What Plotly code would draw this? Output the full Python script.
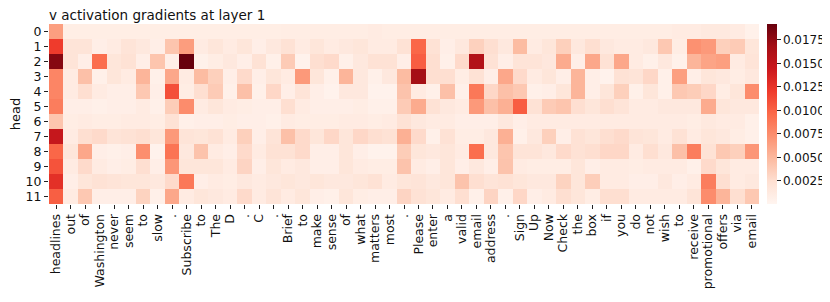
import plotly.graph_objects as go

tokens = ["headlines", "out", "of", "Washington", "never", "seem", "to", "slow", ".",
          "Subscribe", "to", "The", "D", ".", "C", ".", "Brief", "to", "make", "sense",
          "of", "what", "matters", "most", ".", "Please", "enter", "a", "valid", "email",
          "address", ".", "Sign", "Up", "Now", "Check", "the", "box", "if", "you", "do",
          "not", "wish", "to", "receive", "promotional", "offers", "via", "email"]

heads = list(range(12))

head0 = [0.0065, 0.0009, 0.0009, 0.0009, 0.0009, 0.0009, 0.0009, 0.0009, 0.0009, 0.0009,
         0.0009, 0.0009, 0.0009, 0.0009, 0.0009, 0.0009, 0.0010, 0.0010, 0.0010, 0.0010,
         0.0010, 0.0010, 0.0012, 0.0010, 0.0010, 0.0010, 0.0010, 0.0010, 0.0010, 0.0010,
         0.0010, 0.0010, 0.0010, 0.0010, 0.0010, 0.0010, 0.0010, 0.0010, 0.0010, 0.0010,
         0.0010, 0.0010, 0.0010, 0.0012, 0.0012, 0.0014, 0.0014, 0.0012, 0.0005]
head1 = [0.0120, 0.0020, 0.0020, 0.0008, 0.0012, 0.0020, 0.0015, 0.0008, 0.0042, 0.0066,
         0.0012, 0.0018, 0.0012, 0.0018, 0.0008, 0.0015, 0.0022, 0.0012, 0.0018, 0.0012,
         0.0015, 0.0018, 0.0012, 0.0012, 0.0022, 0.0098, 0.0022, 0.0008, 0.0015, 0.0034,
         0.0025, 0.0015, 0.0048, 0.0012, 0.0018, 0.0035, 0.0015, 0.0025, 0.0015, 0.0012,
         0.0012, 0.0015, 0.0040, 0.0010, 0.0073, 0.0068, 0.0035, 0.0038, 0.0018]
head2 = [0.0180, 0.0020, 0.0008, 0.0094, 0.0018, 0.0022, 0.0008, 0.0042, 0.0008, 0.0192,
         0.0005, 0.0010, 0.0015, 0.0008, 0.0022, 0.0006, 0.0038, 0.0004, 0.0025, 0.0028,
         0.0006, 0.0015, 0.0022, 0.0022, 0.0008, 0.0103, 0.0025, 0.0006, 0.0028, 0.0160,
         0.0022, 0.0008, 0.0020, 0.0020, 0.0016, 0.0058, 0.0008, 0.0060, 0.0022, 0.0060,
         0.0012, 0.0006, 0.0015, 0.0005, 0.0052, 0.0062, 0.0065, 0.0012, 0.0020]
head3 = [0.0080, 0.0012, 0.0045, 0.0006, 0.0018, 0.0012, 0.0052, 0.0006, 0.0060, 0.0012,
         0.0048, 0.0035, 0.0008, 0.0028, 0.0008, 0.0018, 0.0012, 0.0068, 0.0018, 0.0006,
         0.0052, 0.0015, 0.0006, 0.0015, 0.0048, 0.0168, 0.0025, 0.0025, 0.0010, 0.0022,
         0.0008, 0.0060, 0.0028, 0.0012, 0.0018, 0.0008, 0.0052, 0.0008, 0.0004, 0.0022,
         0.0020, 0.0030, 0.0006, 0.0065, 0.0008, 0.0018, 0.0015, 0.0010, 0.0015]
head4 = [0.0080, 0.0012, 0.0025, 0.0012, 0.0008, 0.0008, 0.0040, 0.0008, 0.0110, 0.0010,
         0.0025, 0.0038, 0.0006, 0.0045, 0.0006, 0.0030, 0.0008, 0.0020, 0.0008, 0.0004,
         0.0015, 0.0015, 0.0004, 0.0004, 0.0043, 0.0012, 0.0006, 0.0045, 0.0006, 0.0088,
         0.0030, 0.0045, 0.0040, 0.0006, 0.0008, 0.0018, 0.0052, 0.0008, 0.0018, 0.0035,
         0.0006, 0.0018, 0.0006, 0.0040, 0.0037, 0.0030, 0.0010, 0.0018, 0.0076]
head5 = [0.0085, 0.0008, 0.0008, 0.0006, 0.0008, 0.0008, 0.0012, 0.0006, 0.0037, 0.0076,
         0.0012, 0.0018, 0.0012, 0.0010, 0.0008, 0.0008, 0.0025, 0.0012, 0.0008, 0.0008,
         0.0008, 0.0010, 0.0006, 0.0006, 0.0038, 0.0058, 0.0022, 0.0015, 0.0012, 0.0068,
         0.0045, 0.0055, 0.0103, 0.0022, 0.0038, 0.0042, 0.0025, 0.0018, 0.0025, 0.0020,
         0.0012, 0.0012, 0.0015, 0.0015, 0.0015, 0.0058, 0.0018, 0.0015, 0.0015]
head6 = [0.0042, 0.0010, 0.0012, 0.0010, 0.0010, 0.0012, 0.0012, 0.0010, 0.0022, 0.0006,
         0.0008, 0.0008, 0.0010, 0.0008, 0.0008, 0.0006, 0.0012, 0.0010, 0.0010, 0.0010,
         0.0012, 0.0012, 0.0010, 0.0012, 0.0022, 0.0015, 0.0012, 0.0012, 0.0008, 0.0008,
         0.0008, 0.0015, 0.0008, 0.0012, 0.0012, 0.0012, 0.0012, 0.0012, 0.0012, 0.0012,
         0.0012, 0.0012, 0.0012, 0.0012, 0.0010, 0.0014, 0.0012, 0.0012, 0.0006]
head7 = [0.0148, 0.0012, 0.0025, 0.0028, 0.0020, 0.0022, 0.0025, 0.0018, 0.0068, 0.0020,
         0.0018, 0.0022, 0.0012, 0.0035, 0.0008, 0.0020, 0.0045, 0.0028, 0.0018, 0.0030,
         0.0018, 0.0030, 0.0025, 0.0022, 0.0055, 0.0028, 0.0006, 0.0022, 0.0010, 0.0010,
         0.0015, 0.0055, 0.0006, 0.0015, 0.0035, 0.0008, 0.0022, 0.0018, 0.0025, 0.0028,
         0.0020, 0.0018, 0.0012, 0.0022, 0.0012, 0.0018, 0.0015, 0.0010, 0.0006]
head8 = [0.0098, 0.0018, 0.0060, 0.0008, 0.0006, 0.0008, 0.0075, 0.0004, 0.0090, 0.0015,
         0.0043, 0.0012, 0.0008, 0.0028, 0.0012, 0.0022, 0.0022, 0.0028, 0.0008, 0.0008,
         0.0018, 0.0008, 0.0004, 0.0004, 0.0037, 0.0018, 0.0015, 0.0018, 0.0012, 0.0094,
         0.0015, 0.0042, 0.0020, 0.0020, 0.0015, 0.0028, 0.0022, 0.0025, 0.0030, 0.0030,
         0.0012, 0.0025, 0.0015, 0.0045, 0.0085, 0.0022, 0.0040, 0.0035, 0.0070]
head9 = [0.0108, 0.0012, 0.0028, 0.0012, 0.0008, 0.0010, 0.0025, 0.0008, 0.0070, 0.0018,
         0.0018, 0.0018, 0.0012, 0.0032, 0.0008, 0.0018, 0.0012, 0.0015, 0.0008, 0.0008,
         0.0018, 0.0012, 0.0010, 0.0010, 0.0043, 0.0012, 0.0008, 0.0018, 0.0008, 0.0015,
         0.0008, 0.0043, 0.0012, 0.0010, 0.0010, 0.0010, 0.0018, 0.0008, 0.0012, 0.0012,
         0.0010, 0.0012, 0.0012, 0.0012, 0.0006, 0.0028, 0.0018, 0.0012, 0.0012]
head10 = [0.0128, 0.0008, 0.0018, 0.0022, 0.0020, 0.0018, 0.0018, 0.0015, 0.0028, 0.0088,
          0.0008, 0.0012, 0.0010, 0.0015, 0.0012, 0.0015, 0.0018, 0.0015, 0.0018, 0.0015,
          0.0015, 0.0018, 0.0022, 0.0012, 0.0018, 0.0020, 0.0015, 0.0018, 0.0043, 0.0025,
          0.0020, 0.0022, 0.0018, 0.0015, 0.0015, 0.0033, 0.0018, 0.0036, 0.0012, 0.0012,
          0.0008, 0.0008, 0.0015, 0.0008, 0.0012, 0.0085, 0.0025, 0.0012, 0.0015]
head11 = [0.0102, 0.0012, 0.0040, 0.0008, 0.0008, 0.0008, 0.0033, 0.0006, 0.0060, 0.0012,
          0.0018, 0.0015, 0.0012, 0.0028, 0.0012, 0.0020, 0.0012, 0.0018, 0.0008, 0.0006,
          0.0018, 0.0010, 0.0008, 0.0008, 0.0032, 0.0022, 0.0018, 0.0012, 0.0025, 0.0006,
          0.0032, 0.0006, 0.0030, 0.0008, 0.0012, 0.0025, 0.0018, 0.0010, 0.0025, 0.0025,
          0.0012, 0.0012, 0.0012, 0.0012, 0.0020, 0.0076, 0.0052, 0.0025, 0.0040]

z = [head0, head1, head2, head3, head4, head5, head6, head7, head8, head9, head10, head11]

cbar_ticks = [0.0025, 0.0050, 0.0075, 0.0100, 0.0125, 0.0150, 0.0175]

reds = ["rgb(255,245,240)", "rgb(254,224,210)", "rgb(252,187,161)", "rgb(252,146,114)",
        "rgb(251,106,74)", "rgb(239,59,44)", "rgb(203,24,29)", "rgb(165,15,21)",
        "rgb(103,0,13)"]
colorscale = [[i / 8, c] for i, c in enumerate(reds)]

font = "DejaVu Sans, sans-serif"

# the page body adds an 8px offset, so the figure is 8px smaller on each axis
W, H = 822, 294
L, T, R, B = 41, 16, 71, 98

fig = go.Figure(go.Heatmap(
    z=z,
    x=list(range(len(tokens))),
    y=heads,
    colorscale=colorscale,
    zmin=0.00005,
    zmax=0.0192,
    xgap=0, ygap=0,
    colorbar=dict(
        x=1 + 8 / 710, xanchor="left", xpad=0, ypad=0,
        y=0.5, yanchor="middle", len=1, lenmode="fraction",
        thickness=10, outlinewidth=0,
        tickvals=cbar_ticks, ticktext=[f"{v:.4f}" for v in cbar_ticks],
        ticks="outside", ticklen=4, tickwidth=1, tickcolor="#222",
        tickfont=dict(family=font, size=12, color="#111"),
    ),
))

fig.update_layout(
    width=W, height=H,
    margin=dict(l=L, r=R, t=T, b=B, autoexpand=False),
    paper_bgcolor="white", plot_bgcolor="white",
    font=dict(family=font, size=12.5, color="#111"),
    title=dict(text="v activation gradients at layer 1", x=0, xanchor="left",
               xref="paper", y=1 - 7 / H, yanchor="middle", yref="container",
               font=dict(family=font, size=13.5, color="#111")),
)

fig.update_xaxes(
    tickmode="array", tickvals=list(range(len(tokens))), ticktext=tokens,
    tickangle=-90, ticks="outside", ticklen=4, tickwidth=1, tickcolor="#222",
    tickfont=dict(family=font, size=12.5, color="#111"),
    showgrid=False, zeroline=False, showline=False, automargin=False,
    range=[-0.5, len(tokens) - 0.5],
)
fig.update_yaxes(
    tickmode="array", tickvals=heads, ticktext=[str(h) for h in heads],
    autorange=False, range=[11.5, -0.5],
    ticks="outside", ticklen=4, tickwidth=1, tickcolor="#222",
    tickfont=dict(family=font, size=12.5, color="#111"),
    showgrid=False, zeroline=False, showline=False, automargin=False,
    title=dict(text="head", standoff=8, font=dict(family=font, size=13, color="#111")),
)

fig.write_html("out.html")
